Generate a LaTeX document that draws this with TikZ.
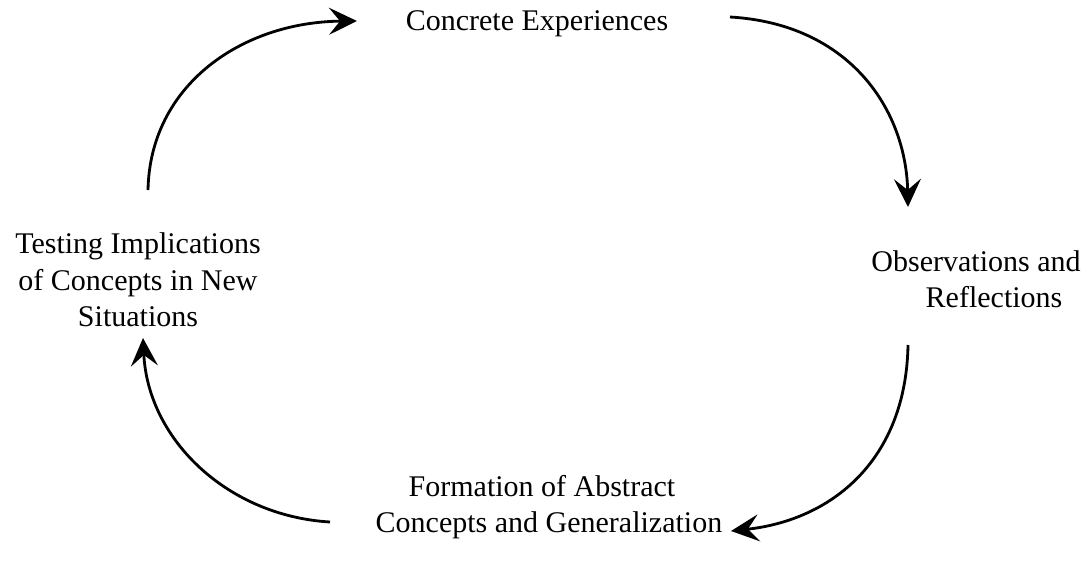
\documentclass[tikz,border=0pt]{standalone}
\usepackage{fontspec}
\setmainfont{Liberation Serif}
\usetikzlibrary{arrows.meta}
\begin{document}
\begin{tikzpicture}[x=1pt,y=-1pt,
  stage/.style={align=center,font=\fontsize{30}{36.5}\selectfont,inner sep=0pt},
  cycle/.style={line width=2.8pt,-{Stealth[length=28pt,width=27pt,inset=11pt]}}]
\useasboundingbox (0,0) rectangle (1086,564);
% the four stages of the learning cycle
\node[stage] (ce) at (537,24) {Concrete Experiences};
\node[stage] (or) at (994,279) {Observations and\hspace*{36pt}\\Reflections};
\node[stage] (fa) at (549,507) {Formation of Abstract\hspace*{14pt}\\Concepts and Generalization};
\node[stage] (ti) at (138,280) {Testing Implications\\of Concepts in New\\Situations};
% arc end points
\coordinate (a1s) at (148,190); \coordinate (a1e) at (357,21);
\coordinate (a2s) at (730,17);  \coordinate (a2e) at (908,207);
\coordinate (a3s) at (908,345); \coordinate (a3e) at (731,531);
\coordinate (a4s) at (330,522); \coordinate (a4e) at (143,338);
% curved arrows between the stages
\draw[cycle] (a1s) .. controls (150,85) and (242,22) .. (a1e);
\draw[cycle] (a2s) .. controls (850,24) and (906,110) .. (a2e);
\draw[cycle] (a3s) .. controls (906,460) and (832,520) .. (a3e);
\draw[cycle] (a4s) .. controls (228,516) and (148,440) .. (a4e);
\end{tikzpicture}
\end{document}
